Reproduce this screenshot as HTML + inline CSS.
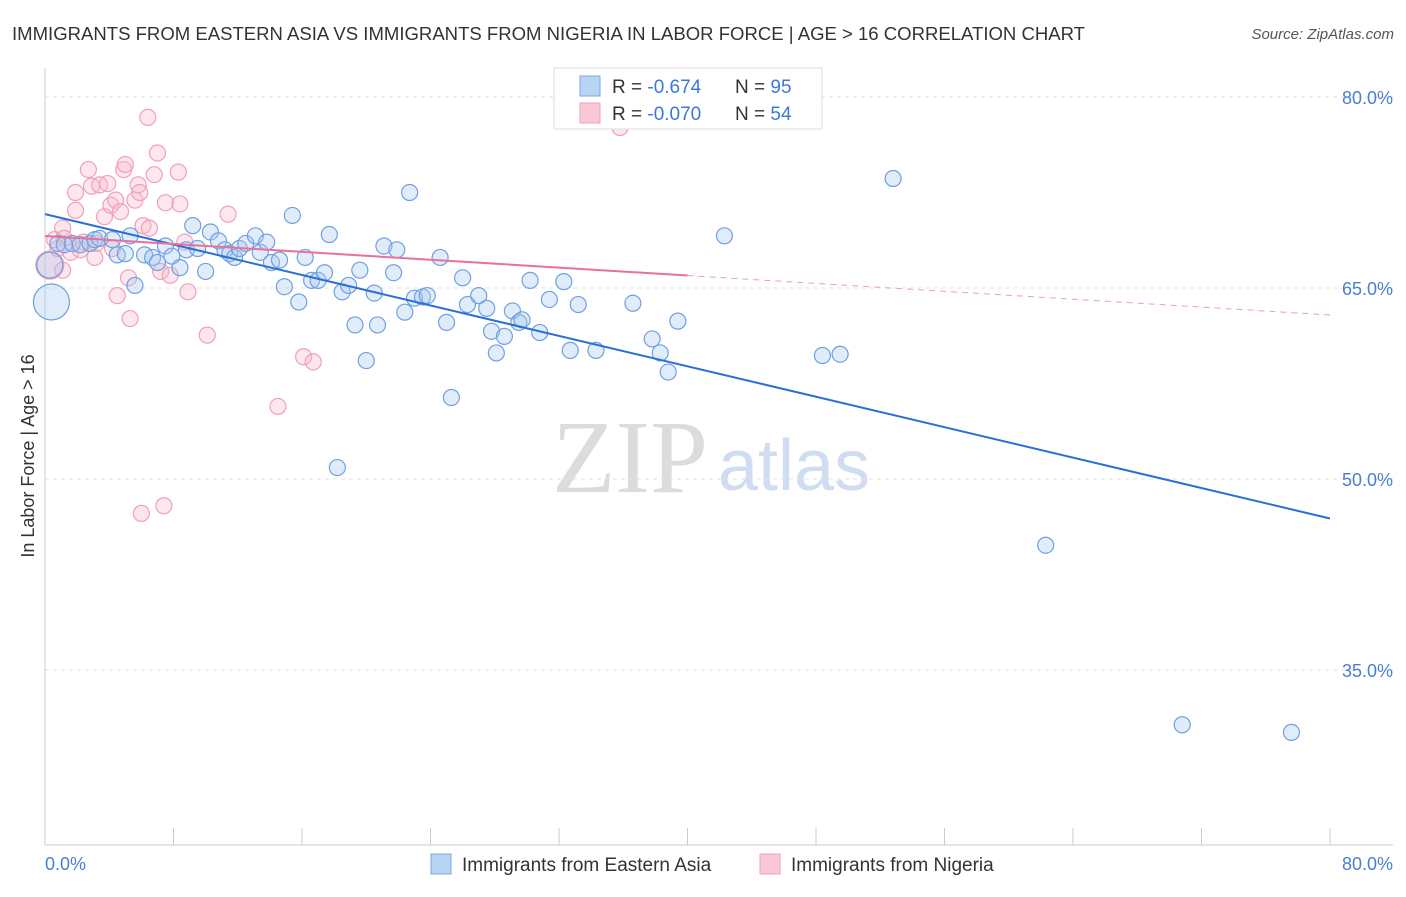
<!DOCTYPE html>
<html><head><meta charset="utf-8"><style>
body{margin:0;background:#fff;font-family:"Liberation Sans",sans-serif;}
svg text{font-family:"Liberation Sans",sans-serif;}
</style></head><body>
<svg id="chart" width="1406" height="892">
<text x="12" y="40" font-size="18" fill="#333" textLength="1073" lengthAdjust="spacingAndGlyphs">IMMIGRANTS FROM EASTERN ASIA VS IMMIGRANTS FROM NIGERIA IN LABOR FORCE | AGE &gt; 16 CORRELATION CHART</text>
<text x="1394" y="39" font-size="15" fill="#555" font-style="italic" text-anchor="end">Source: ZipAtlas.com</text>
<g>
<text x="552" y="492" font-size="104" fill="#dcdcdc" style="font-family:'Liberation Serif',serif">ZIP</text>
<text x="718" y="490" font-size="72" fill="#cfdcf2">atlas</text>
</g>
<g id="grid"></g><g id="axes"></g><g id="pts"></g><g id="lines"></g>
<text transform="translate(34,456) rotate(-90)" font-size="18" fill="#333" text-anchor="middle">In Labor Force | Age &gt; 16</text>
<text x="45" y="870" font-size="18" fill="#4a7fd0">0.0%</text>
<text x="1393" y="870" font-size="18" fill="#4a7fd0" text-anchor="end">80.0%</text>
<g>
<rect x="554" y="68" width="268" height="61" fill="#fff" stroke="#ddd"/>
<rect x="580" y="76" width="20" height="20" fill="#b8d4f4" stroke="#7aa8e0"/>
<rect x="580" y="103" width="20" height="20" fill="#f8c8d8" stroke="#f0a0b8"/>
<text x="612" y="93" font-size="19" fill="#333">R = <tspan fill="#3a78d8">-0.674</tspan><tspan x="735">N = </tspan><tspan fill="#3a78d8">95</tspan></text>
<text x="612" y="120" font-size="19" fill="#333">R = <tspan fill="#3a78d8">-0.070</tspan><tspan x="735">N = </tspan><tspan fill="#3a78d8">54</tspan></text>
</g>
<g>
<rect x="431" y="854" width="20" height="20" fill="#b8d4f4" stroke="#7aa8e0"/>
<text x="462" y="871" font-size="19" fill="#333">Immigrants from Eastern Asia</text>
<rect x="760" y="854" width="20" height="20" fill="#f8c8d8" stroke="#f0a0b8"/>
<text x="791" y="871" font-size="19" fill="#333">Immigrants from Nigeria</text>
</g>
</svg>
<script>
const yTicks=[80,65,50,35];
const yTickLabels=["80.0%","65.0%","50.0%","35.0%"];
const blueX=[0.4,0.3,0.8,1.2,1.7,2.2,2.8,3.1,3.4,4.2,4.5,5.0,5.3,5.6,6.2,6.7,7.0,7.5,7.9,8.4,8.8,9.2,9.5,10.0,10.3,10.8,11.2,11.5,11.8,12.1,12.5,13.1,13.4,13.8,14.1,14.6,14.9,15.4,15.8,16.2,16.6,17.0,17.4,17.7,18.2,18.5,18.9,19.3,19.6,20.0,20.5,20.7,21.1,21.7,21.9,22.4,22.7,23.0,23.5,23.8,24.6,25.0,25.3,26.0,26.3,27.0,27.5,27.8,28.1,28.6,29.1,29.5,29.7,30.2,30.8,31.4,32.3,32.7,33.2,34.3,36.6,37.8,38.3,38.8,39.4,42.3,48.4,49.5,52.8,62.3,70.8,77.6];
const blueY=[63.9,66.8,68.5,68.4,68.5,68.4,68.5,68.8,68.9,68.8,67.6,67.7,69.1,65.2,67.6,67.4,67.0,68.3,67.5,66.6,68.0,69.9,68.1,66.3,69.4,68.7,68.0,67.7,67.4,68.1,68.5,69.1,67.8,68.6,67.0,67.2,65.1,70.7,63.9,67.4,65.6,65.6,66.2,69.2,50.9,64.7,65.2,62.1,66.4,59.3,64.6,62.1,68.3,66.2,68.0,63.1,72.5,64.2,64.3,64.4,67.4,62.3,56.4,65.8,63.7,64.4,63.4,61.6,59.9,61.2,63.2,62.3,62.5,65.6,61.5,64.1,65.5,60.1,63.7,60.1,63.8,61.0,59.9,58.4,62.4,69.1,59.7,59.8,73.6,44.8,30.7,30.1];
const pinkX=[0.3,0.6,0.8,1.1,1.2,1.6,1.9,1.9,2.2,2.7,2.9,3.1,3.4,3.7,3.9,4.1,4.2,4.4,4.5,4.7,4.9,5.0,5.2,5.3,5.6,5.8,5.9,6.1,6.4,6.5,6.8,7.0,7.2,7.5,7.8,8.3,8.4,8.7,8.9,10.1,11.4,14.5,16.1,16.7,6.0,7.4,35.8,3.2,2.4,1.1];
const pinkY=[66.8,68.8,68.1,69.7,68.9,67.8,71.1,72.5,68.0,74.3,73.0,67.4,73.1,70.6,73.2,71.5,68.1,71.9,64.4,71.0,74.3,74.7,65.8,62.6,71.9,73.1,72.5,69.9,78.4,69.7,73.9,75.6,66.3,71.7,66.0,74.1,71.6,68.6,64.7,61.3,70.8,55.7,59.6,59.2,47.3,47.9,77.6,68.5,68.6,66.4];
const blueTrend=[70.8,46.9];
const pinkTrend=[69.08,62.88];
const NS="http://www.w3.org/2000/svg";
const X=v=>45+v*1285/80, Y=v=>97+(80-v)*191/15;
function mk(t,a,p){const e=document.createElementNS(NS,t);for(const k in a)e.setAttribute(k,a[k]);p.appendChild(e);return e;}
const grid=document.getElementById('grid'),axes=document.getElementById('axes'),pts=document.getElementById('pts'),lines=document.getElementById('lines');
yTicks.forEach((t,i)=>{
 const l=mk('line',{x1:45,x2:1393,y1:Y(t),y2:Y(t),stroke:'#e2e2e2','stroke-dasharray':'4,4'},grid);
 
 
 const tx=mk('text',{x:1393,y:Y(t)+7,'font-size':18,fill:'#4a7fd0','text-anchor':'end'},grid);
 tx.textContent=yTickLabels[i];
 
 
});
const ya=mk('line',{x1:45,x2:45,y1:68,y2:845,stroke:'#ccc'},axes);


const xa=mk('line',{x1:45,x2:1393,y1:845,y2:845,stroke:'#ccc'},axes);


for(let i=0;i<=10;i++){const t=mk('line',{x1:X(i*8),x2:X(i*8),y1:828,y2:845,stroke:'#ccc'},axes);
 
 }
function dot(x,y,r,fill,stroke,name){const c=mk('circle',{cx:X(x),cy:Y(y),r:r,fill:fill,'fill-opacity':0.35,stroke:stroke,'stroke-width':1.2},pts);
 
 }
pinkX.forEach((x,i)=>dot(x,pinkY[i],i==0?14:8,'#f8b8cc','#f0a0b8','point-nigeria'));
blueX.forEach((x,i)=>dot(x,blueY[i],i==0?18:(i==1?13:8),'#a8c8f0','#6fa0e0','point-eastern-asia'));
const bl=mk('line',{x1:X(0),y1:Y(blueTrend[0]),x2:X(80),y2:Y(blueTrend[1]),stroke:'#2a6fd8','stroke-width':2},lines);


const pm=pinkTrend[0]+(pinkTrend[1]-pinkTrend[0])*0.5;
const pl=mk('line',{x1:X(0),y1:Y(pinkTrend[0]),x2:X(40),y2:Y(pm),stroke:'#e8709a','stroke-width':2},lines);


const pd=mk('line',{x1:X(40),y1:Y(pm),x2:X(80),y2:Y(pinkTrend[1]),stroke:'#e8a0b8','stroke-width':1,'stroke-dasharray':'6,5'},lines);


</script>
</body></html>
